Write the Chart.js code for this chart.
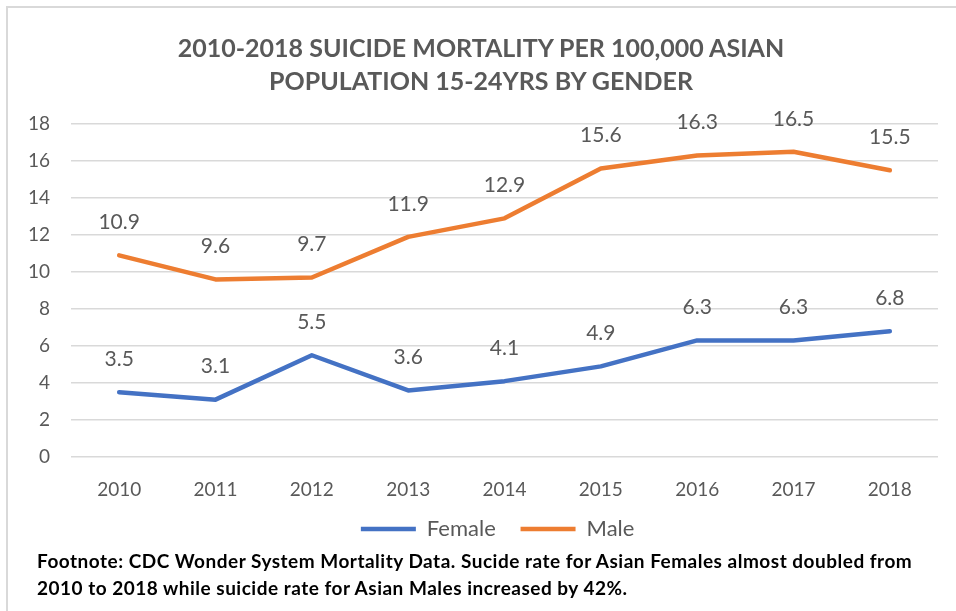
<!DOCTYPE html>
<html>
<head>
<meta charset="utf-8">
<script src="https://cdn.jsdelivr.net/npm/chart.js@4.4.0/dist/chart.umd.min.js"></script>
<style>
  html, body { margin: 0; padding: 0; background: #fff; }
  #wrap { position: relative; width: 956px; height: 611px; overflow: hidden; }
  #frame {
    position: absolute; left: 6px; top: 6px; right: -10px; bottom: -10px;
    border-left: 2px solid #d9d9d9; border-top: 2px solid #d9d9d9;
  }
  #myChart { position: absolute; left: 0; top: 0; }
  #title {
    position: absolute; left: 6px; top: 31px; width: 950px; text-align: center;
    font-family: Lato, "Open Sans", sans-serif; font-weight: bold;
    font-size: 25px; line-height: 33px; color: #595959;
  }
  #footnote {
    position: absolute; left: 37px; top: 547px; width: 915px; white-space: nowrap;
    font-family: Lato, "Open Sans", sans-serif; font-weight: bold;
    font-size: 19px; letter-spacing: 0.5px; line-height: 27px; color: #000;
  }
</style>
</head>
<body>
<div id="wrap">
  <div id="frame"></div>
  <canvas id="myChart" width="956" height="550"></canvas>
  <div id="title">2010-2018 SUICIDE MORTALITY PER 100,000 ASIAN<br>POPULATION 15-24YRS BY GENDER</div>
  <div id="footnote">Footnote: CDC Wonder System Mortality Data. Sucide rate for Asian Females almost doubled from<br>2010 to 2018 while suicide rate for Asian Males increased by 42%.</div>
</div>
<script>
// years and rates per 100,000
const years = ['2010','2011','2012','2013','2014','2015','2016','2017','2018'];
const female = [3.5, 3.1, 5.5, 3.6, 4.1, 4.9, 6.3, 6.3, 6.8];
const male = [10.9, 9.6, 9.7, 11.9, 12.9, 15.6, 16.3, 16.5, 15.5];
const yTicks = [0, 2, 4, 6, 8, 10, 12, 14, 16, 18];

const grey = '#595959';
const fontFamily = 'Lato, "Open Sans", sans-serif';

// value labels above each point
const valueLabels = {
  id: 'valueLabels',
  afterDatasetsDraw(chart) {
    const ctx = chart.ctx;
    ctx.save();
    ctx.font = '21px ' + fontFamily;
    ctx.fillStyle = grey;
    ctx.textAlign = 'center';
    ctx.textBaseline = 'middle';
    chart.data.datasets.forEach(function(ds, i) {
      chart.getDatasetMeta(i).data.forEach(function(pt, j) {
        ctx.fillText(ds.data[j].toFixed(1), pt.x, pt.y - 33);
      });
    });
    ctx.restore();
  }
};

const data = {
  labels: years,
  datasets: [{
    label: 'Female',
    data: female,
    borderColor: '#4472C4',
    backgroundColor: '#4472C4',
    borderWidth: 4.5,
    borderCapStyle: 'round',
    borderJoinStyle: 'round',
    pointRadius: 0,
    tension: 0
  }, {
    label: 'Male',
    data: male,
    borderColor: '#ED7D31',
    backgroundColor: '#ED7D31',
    borderWidth: 4.5,
    borderCapStyle: 'round',
    borderJoinStyle: 'round',
    pointRadius: 0,
    tension: 0
  }]
};

const config = {
  type: 'line',
  data: data,
  plugins: [valueLabels],
  options: {
    responsive: false,
    animation: false,
    layout: { padding: { left: 0, right: 18, top: 124, bottom: 0 } },
    plugins: {
      title: { display: false },
      legend: {
        position: 'bottom',
        fullSize: false,
        labels: {
          color: grey,
          font: { family: fontFamily, size: 22 },
          usePointStyle: true,
          pointStyle: 'line',
          pointStyleWidth: 55,
          boxWidth: 55,
          boxHeight: 22,
          padding: 11,
          // a little extra room after each name
          generateLabels(chart) {
            const items = Chart.defaults.plugins.legend.labels.generateLabels(chart);
            items.forEach(it => { it.text = it.text + '\u2002\u2009'; });
            return items;
          }
        }
      },
      tooltip: { enabled: false }
    },
    scales: {
      x: {
        offset: true,
        afterFit(scale) { scale.height = 50; },
        grid: { display: false, drawTicks: false },
        border: { display: false },
        ticks: { color: grey, font: { family: fontFamily, size: 19 }, padding: 21, maxRotation: 0 }
      },
      y: {
        min: 0,
        max: 18,
        afterFit(scale) { scale.width = 71; },
        afterBuildTicks(scale) { scale.ticks = yTicks.map(v => ({ value: v })); },
        grid: { color: '#d9d9d9', lineWidth: 1.5, drawTicks: false },
        border: { display: false },
        ticks: { color: grey, font: { family: fontFamily, size: 19 }, padding: 21 }
      }
    }
  }
};

const myChart = new Chart(document.getElementById('myChart'), config);
</script>
</body>
</html>
